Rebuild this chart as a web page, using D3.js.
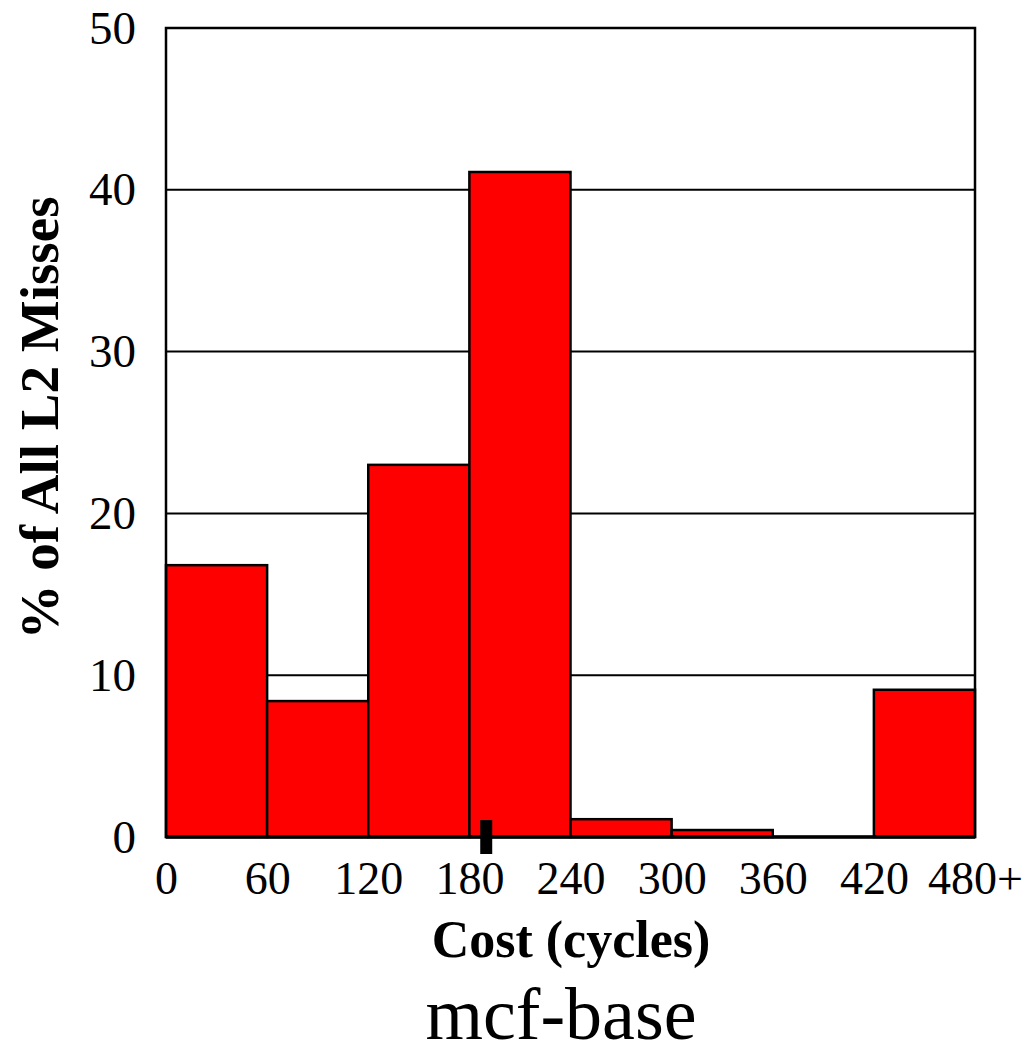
<!DOCTYPE html>
<html>
<head>
<meta charset="utf-8">
<script src="https://cdn.jsdelivr.net/npm/d3@7"></script>
<style>
  body { margin: 0; background: #fff; }
  text { font-family: "Liberation Serif", "Times New Roman", serif; }
</style>
</head>
<body>
<svg id="chart" width="1025" height="1045"></svg>
<script>
// bins of miss cost (cycles) and the share of L2 misses in each
var binStarts = [0, 60, 120, 180, 240, 300, 360, 420];
var binWidth = 60;
var missPct = [16.8, 8.4, 23.0, 41.1, 1.1, 0.43, 0, 9.1];
var xTicks = [0, 60, 120, 180, 240, 300, 360, 420, 480];
var xTickLabels = ["0", "60", "120", "180", "240", "300", "360", "420", "480+"];
var yTicks = [0, 10, 20, 30, 40, 50];
var meanCost = 190;
var title = "mcf-base";

var svg = d3.select("#chart");
var pLeft = 166, pRight = 975, pTop = 28, pBottom = 837;

var x = d3.scaleLinear().domain([0, 480]).range([pLeft, pRight]);
var y = d3.scaleLinear().domain([0, 50]).range([pBottom, pTop]);

// horizontal grid lines
svg.append("g").selectAll("line")
    .data(yTicks.filter(function(d) { return d > 0 && d < 50; }))
    .enter().append("line")
    .attr("x1", pLeft).attr("x2", pRight)
    .attr("y1", function(d) { return y(d); })
    .attr("y2", function(d) { return y(d); })
    .attr("stroke", "#000").attr("stroke-width", 2);

// bars
var bins = binStarts.map(function(d, i) { return { start: d, pct: missPct[i] }; })
    .filter(function(d) { return d.pct > 0; });
svg.append("g").selectAll("rect")
    .data(bins)
    .enter().append("rect")
    .attr("x", function(d) { return x(d.start); })
    .attr("width", function(d) { return x(d.start + binWidth) - x(d.start); })
    .attr("y", function(d) { return y(d.pct); })
    .attr("height", function(d) { return pBottom - y(d.pct); })
    .attr("fill", "#ff0000")
    .attr("stroke", "#000").attr("stroke-width", 2.5);

// plot frame
svg.append("rect")
    .attr("x", pLeft).attr("y", pTop)
    .attr("width", pRight - pLeft).attr("height", pBottom - pTop)
    .attr("fill", "none").attr("stroke", "#000").attr("stroke-width", 2.5);
svg.append("line")
    .attr("x1", pLeft).attr("x2", pRight).attr("y1", pBottom).attr("y2", pBottom)
    .attr("stroke", "#000").attr("stroke-width", 3.5);

// mean marker
svg.append("rect")
    .attr("x", x(meanCost) - 6).attr("width", 12)
    .attr("y", y(1.05)).attr("height", 854 - y(1.05))
    .attr("fill", "#000");

// y axis labels
var yAxis = d3.axisLeft(y).tickValues(yTicks).tickSize(0).tickPadding(30);
var gy = svg.append("g").attr("transform", "translate(" + pLeft + ",0)").call(yAxis);
gy.select(".domain").remove();
gy.selectAll("text")
    .attr("font-family", "Liberation Serif").attr("font-size", 47)
    .attr("fill", "#000");

// x axis labels
var xAxis = d3.axisBottom(x).tickValues(xTicks)
    .tickFormat(function(d, i) { return xTickLabels[i]; })
    .tickSize(0).tickPadding(24);
var gx = svg.append("g").attr("transform", "translate(0," + pBottom + ")").call(xAxis);
gx.select(".domain").remove();
gx.selectAll("text")
    .attr("font-family", "Liberation Serif").attr("font-size", 46)
    .attr("fill", "#000");

// axis titles
svg.append("text")
    .attr("transform", "translate(58,418) rotate(-90)")
    .attr("text-anchor", "middle")
    .attr("font-size", 55).attr("font-weight", "bold")
    .text("% of All L2 Misses");

svg.append("text")
    .attr("x", 571).attr("y", 957)
    .attr("text-anchor", "middle")
    .attr("font-size", 52).attr("font-weight", "bold")
    .text("Cost (cycles)");

svg.append("text")
    .attr("x", 561).attr("y", 1039)
    .attr("text-anchor", "middle")
    .attr("font-size", 74)
    .text(title);
</script>
</body>
</html>
